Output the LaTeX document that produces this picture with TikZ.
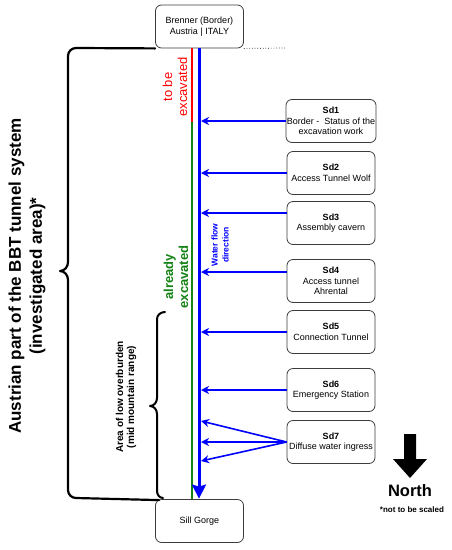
\documentclass[tikz,border=0pt]{standalone}
\usepackage{fontspec}
\setmainfont{Liberation Sans}
\usetikzlibrary{arrows.meta}
\definecolor{tgreen}{RGB}{20,130,20}
\definecolor{boxline}{RGB}{60,60,60}
\begin{document}
\begin{tikzpicture}[x=1pt,y=-1pt,
  box/.style={draw=boxline, line width=0.8pt, rounded corners=6pt, minimum width=88pt, minimum height=43pt, align=center, font=\fontsize{9}{10.5}\selectfont, inner sep=1pt},
  flow/.style={blue, line width=1.6pt, -{Stealth[length=8pt,width=8pt,inset=2.5pt]}},
  bracepath/.style={black, line width=2.2pt, line cap=round, line join=round},
  vlabel/.style={rotate=90, align=center, inner sep=0pt}]
\useasboundingbox (0,0) rectangle (451,550);

% main boxes
\node[box] (top) at (199.5,26.5) {Brenner (Border)\\Austria | ITALY};
\node[box] (bot) at (199.5,521) {Sill Gorge};

\node[box] (sd1) at (331,121) {\textbf{Sd1}\\Border -\ \ Status of the\\excavation work};
\node[box] (sd2) at (331,173) {\textbf{Sd2}\\Access Tunnel Wolf};
\node[box] (sd3) at (331,223) {\textbf{Sd3}\\Assembly cavern};
\node[box] (sd4) at (331,281) {\textbf{Sd4}\\Access tunnel\\Ahrental};
\node[box] (sd5) at (331,332) {\textbf{Sd5}\\Connection Tunnel};
\node[box] (sd6) at (331,390) {\textbf{Sd6}\\Emergency Station};
\node[box] (sd7) at (331,442) {\textbf{Sd7}\\Diffuse water ingress};

% tunnel lines
\coordinate (rg) at (192,122);
\coordinate (bx) at (199,0);
\coordinate (ax) at (201,0);
\draw[red, line width=1.3pt] (top.south -| rg) -- (rg);
\draw[tgreen, line width=1.3pt] (rg) -- (bot.north -| rg);
\draw[blue, line width=3pt, -{Stealth[length=14pt,width=14pt,inset=2pt]}] (top.south -| bx) -- ([yshift=0.5pt]bot.north -| bx);

% dotted border line
\coordinate (dotend) at (285,48);
\draw[black, line width=0.7pt, dotted] (top.south east) -- (dotend);

% inflow arrows
\draw[flow] (sd1.west) -- (sd1.west -| ax);
\draw[flow] (sd2.west) -- (sd2.west -| ax);
\draw[flow] ([yshift=10pt]sd3.west) -- ([yshift=10pt]sd3.west -| ax);
\draw[flow] ([yshift=9pt]sd4.west) -- ([yshift=9pt]sd4.west -| ax);
\draw[flow] (sd5.west) -- (sd5.west -| ax);
\draw[flow] (sd6.west) -- (sd6.west -| ax);
\coordinate (d1) at (201,421);
\coordinate (d2) at (201,442);
\coordinate (d3) at (201,461);
\draw[flow] (sd7.west) -- (d1);
\draw[flow] (sd7.west) -- (d2);
\draw[flow] (sd7.west) -- (d3);

% big brace
\draw[bracepath] (top.south west) -- (76,48) to[out=180,in=90] (68,56) -- (68,262)
  to[out=-90,in=0] (60,271) to[out=0,in=90] (68,280) -- (68,490)
  to[out=-90,in=180] (76,498) -- ([xshift=4pt,yshift=-1pt]bot.north west);
% small brace
\draw[bracepath, line width=2pt] (165,312) to[out=180,in=90] (157,319) -- (157,398)
  to[out=-90,in=0] (150,406) to[out=0,in=90] (157,414) -- (157,491) to[out=-90,in=180] (163,498);

% labels
\node[vlabel, font=\fontsize{17}{21}\selectfont\bfseries] (austria) at (27,276)
  {Austrian part of the BBT tunnel system\\(investigated area)*};
\node[vlabel, font=\fontsize{10}{11}\selectfont\bfseries] (low) at (126,397)
  {Area of low overburden\\(mid mountain range)};
\node[vlabel, red, font=\fontsize{13}{15}\selectfont] (tbe) at (175,87) {to be\\excavated};
\node[vlabel, tgreen, font=\fontsize{13}{15}\selectfont\bfseries] (ae) at (176,277) {already\\excavated};
\node[vlabel, blue, font=\fontsize{8.5}{11}\selectfont\bfseries] (wf) at (220,245) {Water flow\\direction};

% north arrow
\fill[black] (404,434) -- (416,434) -- (416,459) -- (427,459) -- (410,478) -- (393,459) -- (404,459) -- cycle;
\node[font=\fontsize{16.5}{18}\selectfont\bfseries, inner sep=0pt] (north) at (410,491) {North};
\node[font=\fontsize{8}{9}\selectfont\bfseries, inner sep=0pt] (scale) at (412,510) {*not to be scaled};
\end{tikzpicture}
\end{document}
